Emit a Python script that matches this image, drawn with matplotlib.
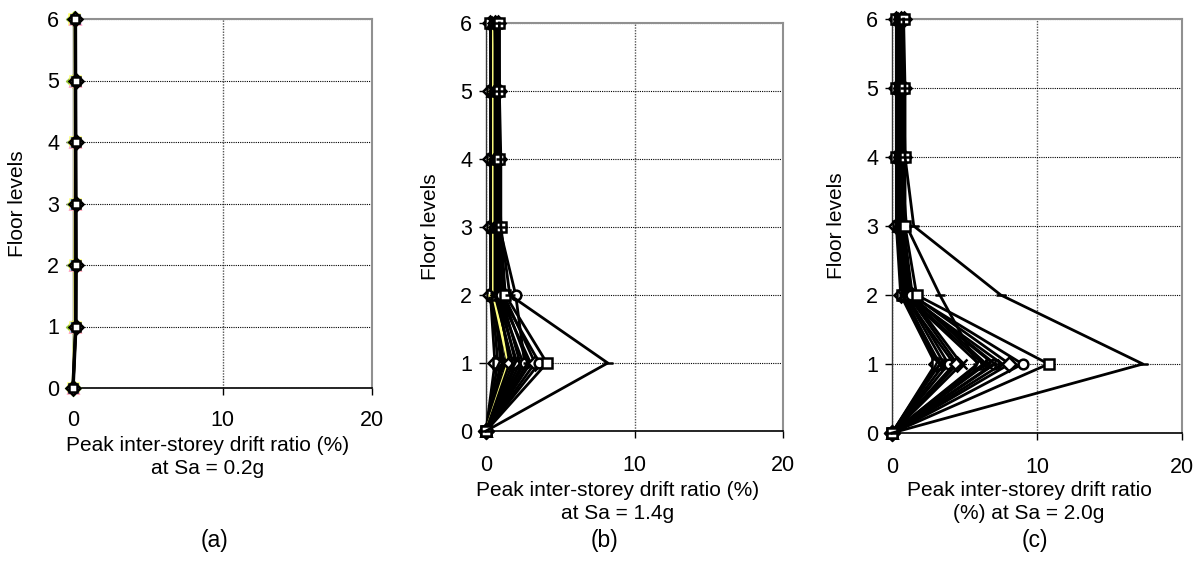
import matplotlib
matplotlib.use("Agg")
import matplotlib.pyplot as plt

plt.rcParams['font.family'] = ['Liberation Sans', 'DejaVu Sans']

floors = [0, 1, 2, 3, 4, 5, 6]
x_ticks = [0, 10, 20]
y_ticks = [0, 1, 2, 3, 4, 5, 6]

# Panel (a): Sa = 0.2g, one row per record (floors 0..6)
drift_a = [
    [0, 0.10, 0.12, 0.12, 0.11, 0.10, 0.09],
    [0, 0.12, 0.13, 0.13, 0.12, 0.11, 0.10],
    [0, 0.14, 0.15, 0.14, 0.13, 0.12, 0.11],
    [0, 0.15, 0.16, 0.15, 0.14, 0.13, 0.12],
    [0, 0.16, 0.17, 0.16, 0.15, 0.14, 0.13],
    [0, 0.17, 0.18, 0.17, 0.16, 0.15, 0.14],
    [0, 0.18, 0.19, 0.18, 0.17, 0.16, 0.15],
    [0, 0.19, 0.20, 0.19, 0.18, 0.17, 0.16],
]

# Panel (b): Sa = 1.4g
drift_b = [
    [0, 0.6, 0.3, 0.3, 0.3, 0.3, 0.3],
    [0, 0.8, 0.4, 0.4, 0.4, 0.4, 0.3],
    [0, 1.0, 0.5, 0.5, 0.5, 0.4, 0.4],
    [0, 1.1, 0.6, 0.5, 0.5, 0.5, 0.5],
    [0, 1.2, 0.6, 0.6, 0.6, 0.6, 0.5],
    [0, 1.4, 0.7, 0.6, 0.6, 0.6, 0.6],
    [0, 1.5, 0.5, 0.5, 0.5, 0.5, 0.5],
    [0, 1.6, 0.8, 0.7, 0.7, 0.7, 0.6],
    [0, 1.8, 0.6, 0.6, 0.6, 0.6, 0.6],
    [0, 2.0, 0.9, 0.8, 0.7, 0.7, 0.7],
    [0, 2.1, 0.7, 0.7, 0.7, 0.7, 0.7],
    [0, 2.3, 1.0, 0.8, 0.8, 0.8, 0.7],
    [0, 2.5, 0.8, 0.7, 0.7, 0.7, 0.7],
    [0, 2.6, 2.0, 0.9, 0.8, 0.8, 0.8],
    [0, 2.8, 1.1, 0.8, 0.8, 0.8, 0.8],
    [0, 3.0, 0.9, 0.8, 0.8, 0.8, 0.8],
    [0, 3.3, 1.2, 0.9, 0.9, 0.9, 0.8],
    [0, 3.6, 1.0, 0.9, 0.9, 0.8, 0.8],
    [0, 4.1, 1.3, 1.0, 0.9, 0.9, 0.9],
    [0, 8.2, 1.6, 1.0, 1.0, 0.9, 0.9],
]

# Panel (c): Sa = 2.0g
drift_c = [
    [0, 3.0, 0.6, 0.3, 0.3, 0.3, 0.3],
    [0, 3.1, 0.7, 0.4, 0.3, 0.3, 0.3],
    [0, 3.2, 0.8, 0.4, 0.4, 0.4, 0.4],
    [0, 3.3, 0.7, 0.5, 0.4, 0.4, 0.4],
    [0, 3.6, 0.9, 0.5, 0.5, 0.5, 0.5],
    [0, 3.9, 1.0, 0.6, 0.5, 0.5, 0.5],
    [0, 4.3, 0.8, 0.5, 0.5, 0.5, 0.5],
    [0, 4.5, 1.1, 0.7, 0.6, 0.6, 0.6],
    [0, 4.8, 1.2, 0.6, 0.6, 0.6, 0.6],
    [0, 5.9, 3.3, 1.0, 0.6, 0.6, 0.6],
    [0, 6.0, 0.9, 0.6, 0.6, 0.6, 0.6],
    [0, 6.3, 1.0, 0.7, 0.7, 0.6, 0.6],
    [0, 6.5, 1.3, 0.7, 0.7, 0.7, 0.7],
    [0, 7.0, 1.1, 0.6, 0.7, 0.7, 0.7],
    [0, 7.1, 1.2, 0.8, 0.7, 0.7, 0.7],
    [0, 7.6, 1.0, 0.7, 0.8, 0.8, 0.7],
    [0, 8.1, 1.4, 0.8, 0.8, 0.8, 0.8],
    [0, 9.0, 1.3, 0.8, 0.8, 0.8, 0.8],
    [0, 10.8, 1.7, 0.9, 0.9, 0.8, 0.8],
    [0, 17.3, 7.5, 1.5, 0.9, 0.9, 0.8],
]

markers = ['D', 's', '^', 'x', (6, 2, 0), 'o', '+', 'D', 'x', '_',
           '^', 'x', (6, 2, 0), 'o', '+', 'x', 'D', 'o', 's', '_']
colors_a = ['#9acd32', '#ffff66', '#ff99cc', '#99ccff', '#9acd32',
            '#ffcc66', '#000000', '#000000']
colors_b = ['#000000'] * 20
colors_b[6] = '#ffff80'
colors_c = ['#000000'] * 20

# (axes box in px: left, top, right, bottom), xlabel, tag, tag x, xlabel top, xlabel offset
panels = [
    (drift_a, colors_a, [73, 19, 372, 388],
     "Peak inter-storey drift ratio (%)\nat Sa = 0.2g", "(a)", 215, 436, -15),
    (drift_b, colors_b, [486, 23, 783, 431],
     "Peak inter-storey drift ratio (%)\nat Sa = 1.4g", "(b)", 605, 481, -17),
    (drift_c, colors_c, [892, 19, 1182, 433],
     "Peak inter-storey drift ratio\n(%) at Sa = 2.0g", "(c)", 1035, 481, -8),
]

W, H = 1200, 566
fig = plt.figure(figsize=(12, 5.66), dpi=100)

for data, cols, (l, t, r, b), xlabel, tag, tagx, xl_top, xl_dx in panels:
    ax = fig.add_axes([l / W, 1 - b / H, (r - l) / W, (b - t) / H])
    ax.set_xlim(0, 20)
    ax.set_ylim(0, 6)
    for i, row in enumerate(data):
        c = cols[i % len(cols)]
        mk = markers[i % len(markers)]
        ax.plot(row, floors, color=c, lw=2.0, marker=mk, markersize=7,
                markerfacecolor='white', markeredgecolor=c,
                markeredgewidth=1.8, clip_on=False, zorder=3)
    if tag == "(a)":
        ax.plot(data[-1], floors, color='black', lw=2.5, marker='s',
                markersize=6, markerfacecolor='white', markeredgecolor='black',
                markeredgewidth=1.8, clip_on=False, zorder=4)
    ax.set_xticks(x_ticks)
    ax.set_yticks(y_ticks)
    ax.grid(True, axis='y', color='black', linestyle=(0, (1, 1)), lw=0.8)
    ax.grid(True, axis='x', color='#555555', linestyle=(0, (1, 1)), lw=1.0)
    ax.set_axisbelow(True)
    for s in ['top', 'right']:
        ax.spines[s].set_color('#909090')
        ax.spines[s].set_linewidth(1.5)
    ax.spines['left'].set_color('#333333')
    ax.spines['bottom'].set_color('black')
    ax.spines['left'].set_linewidth(1.0)
    ax.spines['bottom'].set_linewidth(1.2)
    ax.tick_params(axis='both', direction='out', length=5, width=1,
                   labelsize=15.5, colors='black')
    ax.tick_params(axis='x', pad=11 if tag == "(a)" else 12)
    ax.tick_params(axis='y', pad=5)
    ax.set_xlabel(xlabel, fontsize=15, linespacing=1.25)
    ax.xaxis.set_label_coords(0.5 + xl_dx / (r - l), -(xl_top - b) / (b - t))
    ax.set_ylabel("Floor levels", fontsize=15)
    ax.yaxis.set_label_coords(-46 / (r - l), 0.5)
    fig.text(tagx / W, 1 - 541 / H, tag, fontsize=16.5, ha='center', va='center')

fig.savefig("out.png", dpi=100)
